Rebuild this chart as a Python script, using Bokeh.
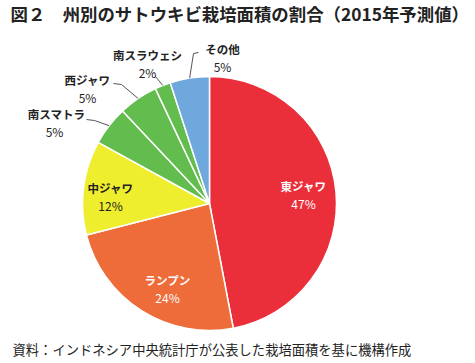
import math
from bokeh.plotting import figure
from bokeh.models import Range1d, ColumnDataSource
from bokeh.core.properties import value
from bokeh.embed import file_html
from bokeh.resources import INLINE

# ---- data ----
regions = ["東ジャワ", "ランプン", "中ジャワ", "南スマトラ", "西ジャワ", "南スラウェシ", "その他"]
shares = [47, 24, 12, 5, 5, 2, 5]
pct_labels = ["47%", "24%", "12%", "5%", "5%", "2%", "5%"]
title_text = "図２　州別のサトウキビ栽培面積の割合（2015年予測値）"
source_text = "資料：インドネシア中央統計庁が公表した栽培面積を基に機構作成"

# ---- style / layout ----
colors = ["#EA2F3A", "#EE6B3A", "#EEEE2E", "#63BD4E", "#63BD4E", "#63BD4E", "#6FA8DC"]
FONT = "Noto Sans CJK JP"
W, H = 475, 363

def Y(py):
    return H - py

cx, cy, R = 209, Y(203), 127

# label positions in page pixels: (name x, name y, pct x, pct y)
label_pos = [
    (303, 185, 303, 203),
    (167, 279, 167, 297),
    (110, 187, 110, 205),
    (56, 113, 54, 131),
    (87, 79, 87, 97),
    (147, 54, 147, 72),
    (222, 48, 222, 66),
]
name_colors = ["white", "white", "#222222", "#222222", "#222222", "#222222", "#222222"]
# leader polylines (text end, elbow) for outside labels, index -> points in page px
leaders = {
    3: [(86, 119), (94, 120)],
    4: [(113, 83), (121, 84)],
    5: [(155, 76)],
    6: [(198, 52), (193, 53)],
}

total = sum(shares)
starts, ends, mids = [], [], []
c = 0.0
for s in shares:
    a0 = c / total * 2 * math.pi
    c += s
    a1 = c / total * 2 * math.pi
    starts.append(math.pi / 2 - a0)
    ends.append(math.pi / 2 - a1)
    mids.append(math.pi / 2 - (a0 + a1) / 2)

p = figure(width=W, height=H, output_backend="svg", toolbar_location=None,
           x_range=Range1d(0, W), y_range=Range1d(0, H),
           min_border=0, outline_line_color=None)
p.axis.visible = False
p.grid.visible = False
p.background_fill_color = "white"

src = ColumnDataSource(dict(start=starts, end=ends, color=colors))
p.wedge(x=cx, y=cy, radius=R, start_angle="start", end_angle="end",
        direction="clock", fill_color="color", line_color="white",
        line_width=1.5, source=src)

# leader lines
for i, pts in leaders.items():
    ex = cx + R * math.cos(mids[i])
    ey = cy + R * math.sin(mids[i])
    xs = [pt[0] for pt in pts] + [ex]
    ys = [Y(pt[1]) for pt in pts] + [ey]
    p.line(xs, ys, line_color="#555555", line_width=1)

nsrc = ColumnDataSource(dict(
    x=[lp[0] for lp in label_pos], y=[Y(lp[1]) for lp in label_pos],
    t=regions, c=name_colors))
p.text(x="x", y="y", text="t", text_color="c", source=nsrc,
       text_font=value(FONT), text_font_size="11.5px", text_font_style="bold",
       text_align="center", text_baseline="middle")
psrc = ColumnDataSource(dict(
    x=[lp[2] for lp in label_pos], y=[Y(lp[3]) for lp in label_pos],
    t=pct_labels, c=name_colors))
p.text(x="x", y="y", text="t", text_color="c", source=psrc,
       text_font=value(FONT), text_font_size="12px",
       text_align="center", text_baseline="middle")

p.text(x=[10], y=[Y(13)], text=[title_text], text_color="#222222",
       text_font=value(FONT), text_font_size="17.4px", text_font_style="bold",
       text_align="left", text_baseline="middle")
p.text(x=[12], y=[Y(349)], text=[source_text], text_color="#222222",
       text_font=value(FONT), text_font_size="13.3px",
       text_align="left", text_baseline="middle")

open("out.html", "w").write(file_html(p, INLINE))
